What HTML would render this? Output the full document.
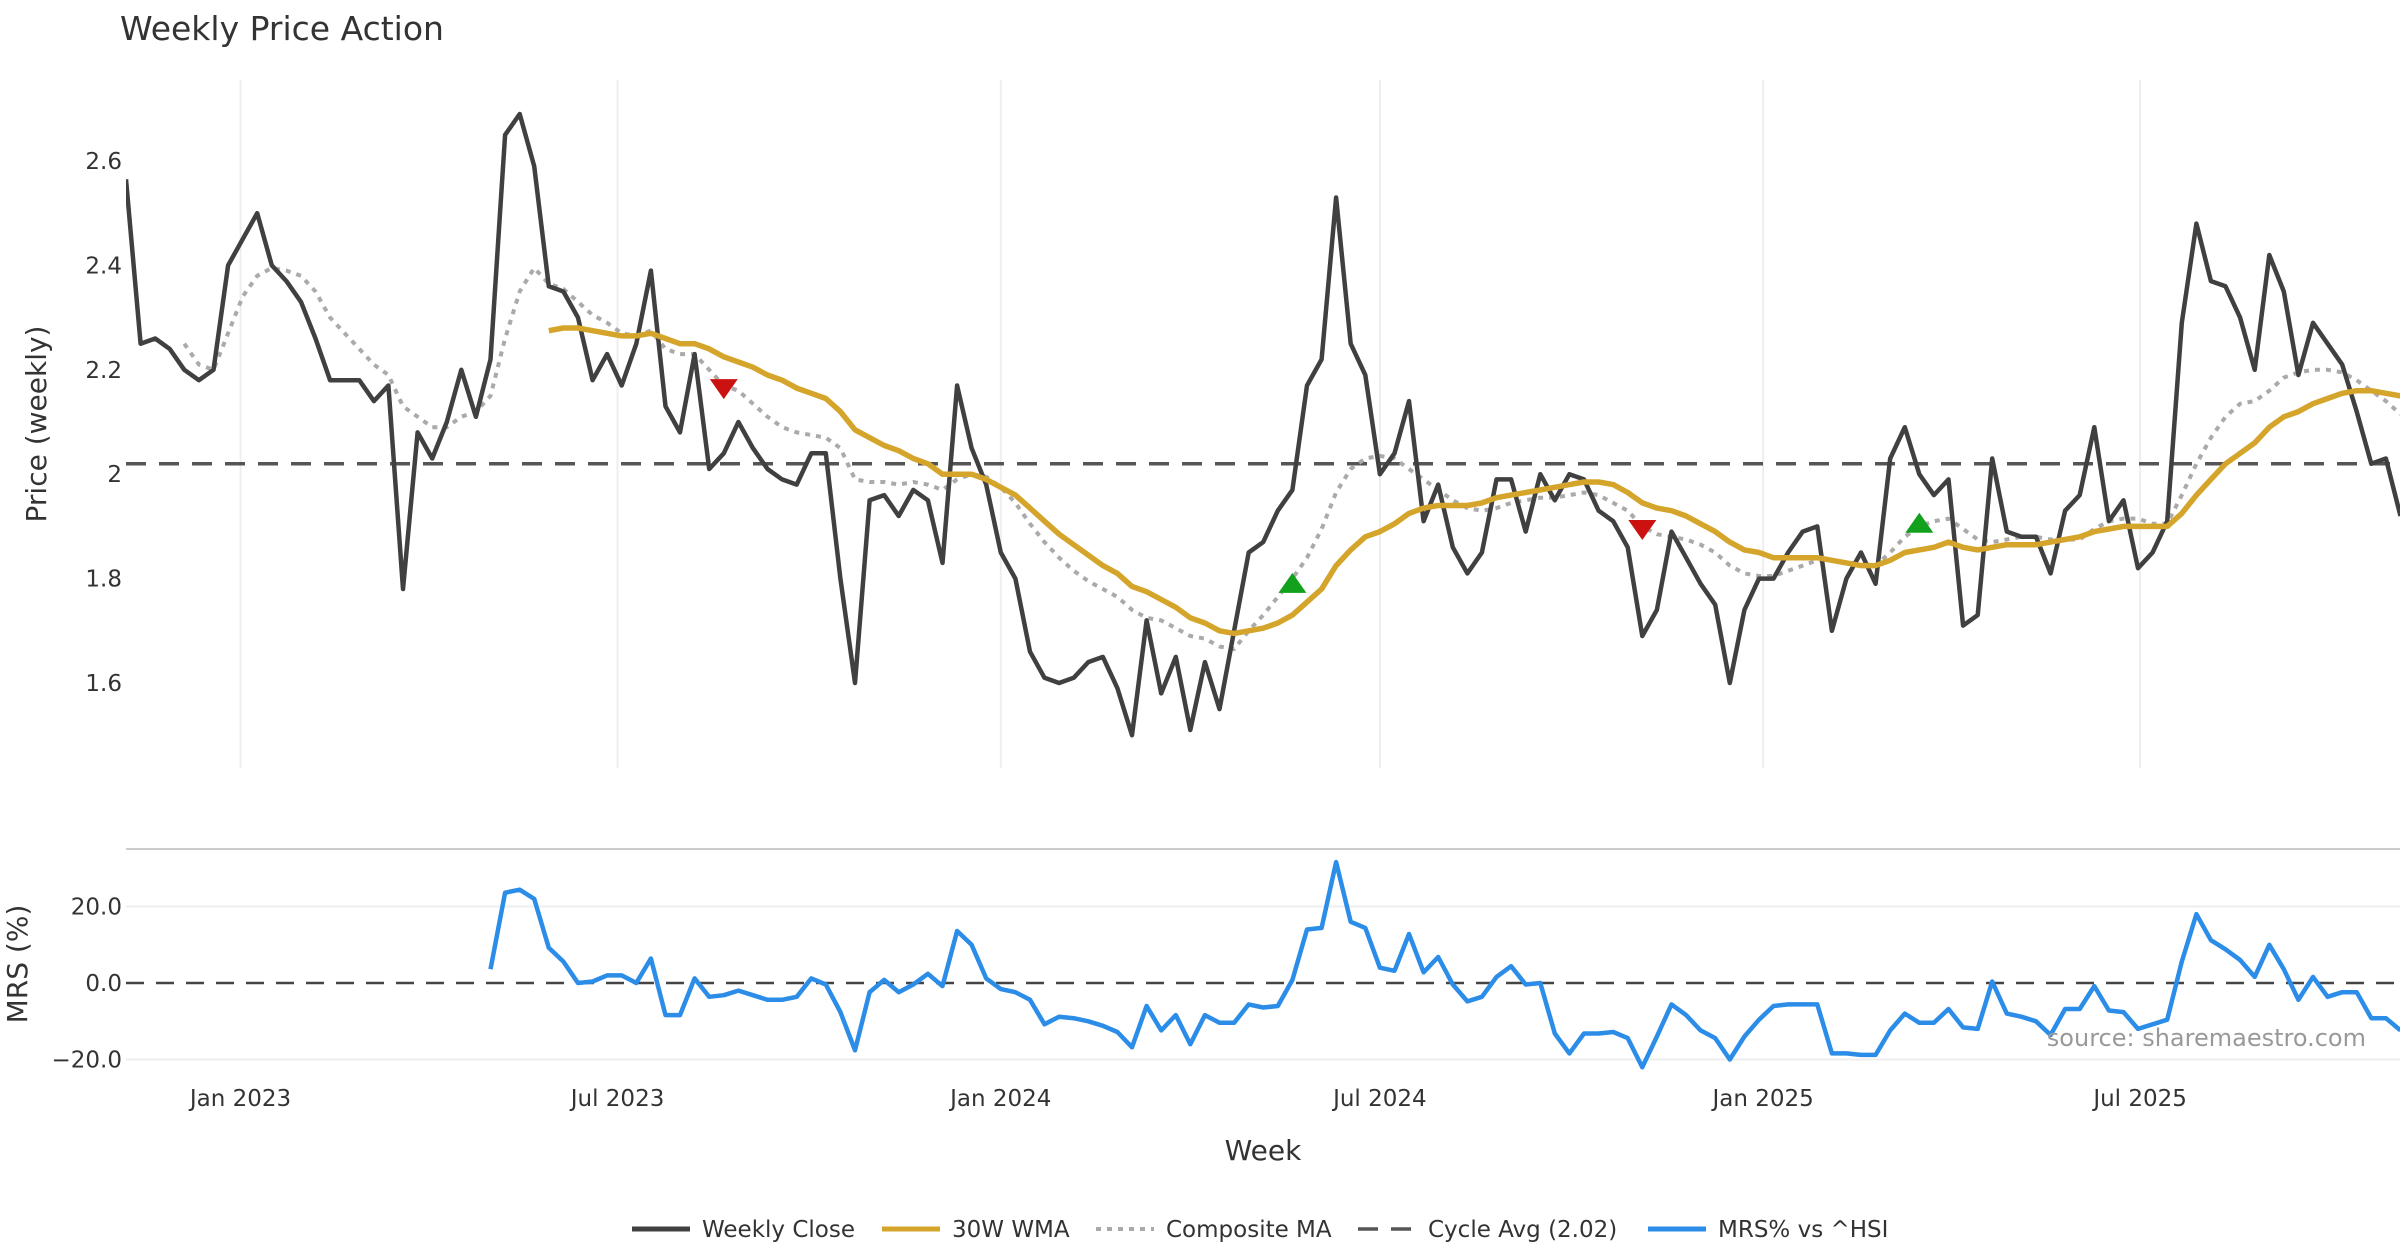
<!DOCTYPE html>
<html><head><meta charset="utf-8"><style>
html,body{margin:0;padding:0;background:#fff;}
svg{display:block;font-family:"DejaVu Sans","Liberation Sans",sans-serif;}
</style></head><body>
<svg id="chart" width="2400" height="1260" viewBox="0 0 2400 1260" xmlns="http://www.w3.org/2000/svg">
<text x="120" y="40" font-size="33" fill="#333">Weekly Price Action</text>
<g id="grid"></g>
<g id="series"></g>
<g id="axes"></g>
<text x="2366" y="1046" font-size="24" fill="#999" text-anchor="end">source: sharemaestro.com</text>
<text transform="translate(46,424) rotate(-90)" font-size="28" fill="#333" text-anchor="middle">Price (weekly)</text>
<text transform="translate(27,964) rotate(-90)" font-size="28" fill="#333" text-anchor="middle">MRS (%)</text>
<text x="1263" y="1160" font-size="28" fill="#333" text-anchor="middle">Week</text>
<g id="legend"></g>
</svg>
<script>
const closeVals=[2.565,2.25,2.26,2.24,2.20,2.18,2.20,2.40,2.45,2.50,2.40,2.37,2.33,2.26,2.18,2.18,2.18,2.14,2.17,1.78,2.08,2.03,2.10,2.20,2.11,2.22,2.65,2.69,2.59,2.36,2.35,2.30,2.18,2.23,2.17,2.25,2.39,2.13,2.08,2.23,2.01,2.04,2.10,2.05,2.01,1.99,1.98,2.04,2.04,1.80,1.60,1.95,1.96,1.92,1.97,1.95,1.83,2.17,2.05,1.98,1.85,1.80,1.66,1.61,1.60,1.61,1.64,1.65,1.59,1.50,1.72,1.58,1.65,1.51,1.64,1.55,1.70,1.85,1.87,1.93,1.97,2.17,2.22,2.53,2.25,2.19,2.00,2.04,2.14,1.91,1.98,1.86,1.81,1.85,1.99,1.99,1.89,2.00,1.95,2.00,1.99,1.93,1.91,1.86,1.69,1.74,1.89,1.84,1.79,1.75,1.60,1.74,1.80,1.80,1.85,1.89,1.90,1.70,1.80,1.85,1.79,2.03,2.09,2.00,1.96,1.99,1.71,1.73,2.03,1.89,1.88,1.88,1.81,1.93,1.96,2.09,1.91,1.95,1.82,1.85,1.91,2.29,2.48,2.37,2.36,2.30,2.20,2.42,2.35,2.19,2.29,2.25,2.21,2.12,2.02,2.03,1.92];
const wmaStart=29;
const wmaVals=[2.275,2.28,2.28,2.275,2.27,2.265,2.265,2.27,2.26,2.25,2.25,2.24,2.225,2.215,2.205,2.19,2.18,2.165,2.155,2.145,2.12,2.085,2.07,2.055,2.045,2.03,2.02,2.00,2.00,2.00,1.99,1.975,1.96,1.935,1.91,1.885,1.865,1.845,1.825,1.81,1.785,1.775,1.76,1.745,1.725,1.715,1.70,1.695,1.70,1.705,1.715,1.73,1.755,1.78,1.825,1.855,1.88,1.89,1.905,1.925,1.935,1.94,1.94,1.94,1.945,1.955,1.96,1.965,1.97,1.975,1.98,1.985,1.985,1.98,1.965,1.945,1.935,1.93,1.92,1.905,1.89,1.87,1.855,1.85,1.84,1.84,1.84,1.84,1.835,1.83,1.825,1.825,1.835,1.85,1.855,1.86,1.87,1.86,1.855,1.86,1.865,1.865,1.865,1.87,1.875,1.88,1.89,1.895,1.90,1.90,1.90,1.90,1.925,1.96,1.99,2.02,2.04,2.06,2.09,2.11,2.12,2.135,2.145,2.155,2.16,2.16,2.155,2.15];
const compStart=4;
const compVals=[2.25,2.21,2.20,2.27,2.34,2.38,2.395,2.39,2.38,2.35,2.30,2.27,2.24,2.21,2.19,2.13,2.11,2.09,2.09,2.11,2.12,2.15,2.26,2.35,2.395,2.365,2.355,2.33,2.305,2.29,2.27,2.265,2.275,2.24,2.23,2.23,2.20,2.17,2.16,2.135,2.11,2.09,2.08,2.075,2.07,2.05,1.99,1.985,1.985,1.98,1.985,1.98,1.97,1.99,2.00,1.995,1.975,1.945,1.905,1.87,1.84,1.815,1.795,1.78,1.765,1.74,1.725,1.72,1.705,1.69,1.685,1.67,1.665,1.70,1.73,1.765,1.80,1.84,1.895,1.965,2.01,2.03,2.035,2.03,2.01,1.99,1.97,1.95,1.935,1.93,1.935,1.945,1.95,1.955,1.955,1.96,1.965,1.96,1.945,1.93,1.90,1.885,1.88,1.875,1.865,1.85,1.825,1.81,1.805,1.805,1.815,1.825,1.835,1.835,1.83,1.83,1.825,1.85,1.88,1.90,1.91,1.915,1.895,1.875,1.87,1.875,1.88,1.88,1.875,1.875,1.875,1.895,1.91,1.915,1.915,1.905,1.905,1.96,2.02,2.07,2.11,2.135,2.14,2.16,2.185,2.195,2.20,2.20,2.195,2.18,2.16,2.14,2.115];
const mrsStart=25;
const mrsVals=[3.6,23.6,24.4,22,9.2,5.6,0,0.4,2,2,0,6.4,-8.4,-8.4,1.2,-3.6,-3.2,-2,-3.2,-4.4,-4.4,-3.6,1.2,-0.4,-7.6,-17.6,-2.4,0.8,-2.4,-0.4,2.4,-0.8,13.6,10,1.2,-1.6,-2.4,-4.4,-10.8,-8.8,-9.2,-10,-11.2,-12.8,-16.8,-6,-12.4,-8.4,-16,-8.4,-10.4,-10.4,-5.6,-6.4,-6,0.8,14,14.4,31.6,16,14.4,4,3.2,12.8,2.8,6.8,-0.4,-4.8,-3.6,1.6,4.4,-0.4,0,-13.2,-18.4,-13.2,-13.2,-12.8,-14.4,-22,-14,-5.6,-8.4,-12.4,-14.4,-20,-14,-9.6,-6,-5.6,-5.6,-5.6,-18.4,-18.4,-18.8,-18.8,-12.4,-8,-10.4,-10.4,-6.8,-11.6,-12,0.4,-8,-8.8,-10,-13.6,-6.8,-6.8,-0.8,-7.2,-7.6,-12,-10.8,-9.6,5.6,18,11.2,8.8,6,1.6,10,3.6,-4.4,1.6,-3.6,-2.4,-2.4,-9.2,-9.2,-12.4];
const cycleAvg=2.02;
const sellIdx=[41,104], sellVals=[2.165,1.895];
const buyIdx=[80,123], buyVals=[1.79,1.905];
const priceTicks=[1.6,1.8,2,2.2,2.4,2.6];
const priceTickLabels=["1.6","1.8","2","2.2","2.4","2.6"];
const mrsTicks=[-20,0,20];
const mrsTickLabels=["\u221220.0","0.0","20.0"];
const dateTickLabels=["Jan 2023","Jul 2023","Jan 2024","Jul 2024","Jan 2025","Jul 2025"];
const dateTicks=["2023-01-01","2023-07-01","2024-01-01","2024-07-01","2025-01-01","2025-07-01"];
const startDate="2022-11-07";

const NS="http://www.w3.org/2000/svg";
const X0=126, DX=14.58;
const x=i=>X0+i*DX;
const xDate=d=>x((Date.parse(d)-Date.parse(startDate))/(7*864e5));
const yP=v=>161+(2.6-v)*522;
const yM=v=>983-v*3.825;
function mk(tag,attrs,parent){const e=document.createElementNS(NS,tag);for(const k in attrs)e.setAttribute(k,attrs[k]);parent.appendChild(e);return e;}
const grid=document.getElementById('grid'),ser=document.getElementById('series'),axes=document.getElementById('axes'),leg=document.getElementById('legend');
// clip
const defs=mk('defs',{},document.getElementById('chart'));
const cp=mk('clipPath',{id:'clip'},defs);mk('rect',{x:126,y:0,width:2274,height:1260},cp);
ser.setAttribute('clip-path','url(#clip)');
dateTicks.forEach((d,k)=>{
  const gx=xDate(d);
  const g=mk('line',{x1:gx,x2:gx,y1:80,y2:768,stroke:'#eeeeee','stroke-width':2},grid);
  
  
  const t=mk('text',{x:gx,y:1106,'font-size':23,fill:'#333','text-anchor':'middle'},axes);
  t.textContent=dateTickLabels[k];
  
  
});
priceTicks.forEach((v,k)=>{
  const t=mk('text',{x:122,y:yP(v)+8,'font-size':23,fill:'#333','text-anchor':'end'},axes);
  t.textContent=priceTickLabels[k];
  
  
});
mrsTicks.forEach((v,k)=>{
  if(v!==0){const g=mk('line',{x1:126,x2:2400,y1:yM(v),y2:yM(v),stroke:'#eeeeee','stroke-width':2},grid);
  
  }
  const t=mk('text',{x:122,y:yM(v)+8,'font-size':23,fill:'#333','text-anchor':'end'},axes);
  t.textContent=mrsTickLabels[k];
  
  
});
const sep=mk('line',{x1:126,x2:2400,y1:849,y2:849,stroke:'#cccccc','stroke-width':2},grid);


const z=mk('line',{x1:126,x2:2400,y1:yM(0),y2:yM(0),stroke:'#444','stroke-width':2.5,'stroke-dasharray':'18,12'},ser);


const cy=mk('line',{x1:126,x2:2400,y1:yP(cycleAvg),y2:yP(cycleAvg),stroke:'#555','stroke-width':3.5,'stroke-dasharray':'20,13'},ser);


function path(vals,start,yf,attrs,name){
  const d=vals.map((v,j)=>(j?'L':'M')+x(start+j).toFixed(1)+','+yf(v).toFixed(1)).join('');
  const p=mk('path',Object.assign({d:d,fill:'none','stroke-linejoin':'round'},attrs),ser);
  
  
}
path(compVals,compStart,yP,{stroke:'#aaaaaa','stroke-width':4,'stroke-dasharray':'5,6'},'composite-ma-line');
path(closeVals,0,yP,{stroke:'#404040','stroke-width':4.5},'weekly-close-line');
path(wmaVals,wmaStart,yP,{stroke:'#d4a52a','stroke-width':5.5},'wma-30w-line');
path(mrsVals,mrsStart,yM,{stroke:'#2b8de8','stroke-width':4.5},'mrs-line');
sellIdx.forEach((i,k)=>{const cx=x(i),c=yP(sellVals[k]);
  const m=mk('polygon',{points:`${cx-14},${c-9} ${cx+14},${c-9} ${cx},${c+11}`,fill:'#cc1111'},ser);
  
  });
buyIdx.forEach((i,k)=>{const cx=x(i),c=yP(buyVals[k]);
  const m=mk('polygon',{points:`${cx-14},${c+9} ${cx+14},${c+9} ${cx},${c-11}`,fill:'#11a11d'},ser);
  
  });
const legItems=[["Weekly Close",632,{stroke:'#404040','stroke-width':5}],["30W WMA",882,{stroke:'#d4a52a','stroke-width':5}],["Composite MA",1096,{stroke:'#aaaaaa','stroke-width':4,'stroke-dasharray':'5,6'}],["Cycle Avg (2.02)",1358,{stroke:'#555','stroke-width':3.5,'stroke-dasharray':'20,13'}],["MRS% vs ^HSI",1648,{stroke:'#2b8de8','stroke-width':5}]];
legItems.forEach(it=>{
  const g=mk('g',{},leg);
  
  
  mk('line',Object.assign({x1:it[1],x2:it[1]+58,y1:1229,y2:1229},it[2]),g);
  const t=mk('text',{x:it[1]+70,y:1237,'font-size':23,fill:'#333'},g);t.textContent=it[0];
});
</script>
</body></html>
